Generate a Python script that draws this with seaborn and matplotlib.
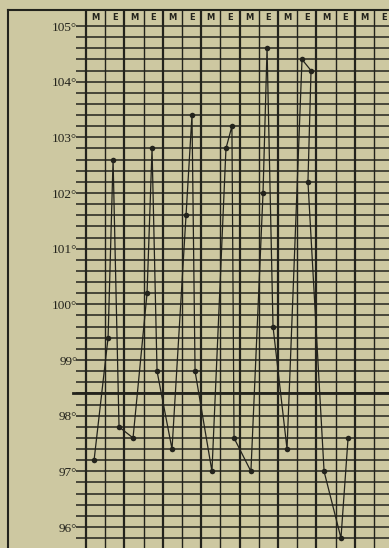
import numpy as np
import matplotlib.pyplot as plt
from matplotlib.lines import Line2D
import seaborn as sns

# temperature readings, x in chart columns (M/E half-days), y in degrees F
times = [0.42, 1.15, 1.41, 1.72, 2.45, 3.18, 3.44, 3.70, 4.48, 5.21, 5.52, 5.68,
         6.56, 7.29, 7.60, 7.71, 8.59, 9.22, 9.43, 9.74, 10.47, 11.25, 11.72,
         11.56, 12.40, 13.28, 13.65]
temps = [97.2, 99.4, 102.6, 97.8, 97.6, 100.2, 102.8, 98.8, 97.4, 101.6, 103.4,
         98.8, 97.0, 102.8, 103.2, 97.6, 97.0, 102.0, 104.6, 99.6, 97.4, 104.4,
         104.2, 102.2, 97.0, 95.8, 97.6]
header = ["M", "E"] * 8
degrees = list(range(96, 106))
normal = 98.4

bg = "#cdc8a1"
ink = "#23231c"

fig = plt.figure(figsize=(3.89, 5.48), dpi=100)
fig.patch.set_facecolor(bg)
ax = fig.add_axes([76 / 389, 0, (389 - 76) / 389, (548 - 10) / 548])
ax.set_facecolor(bg)

col_px = 19.2
deg_px = 55.67
ax.set_xlim((76 - 86) / col_px, (389 - 86) / col_px)
ax.set_ylim(105 - (548 - 26) / deg_px, 105 + 16 / deg_px)

# ruled paper
for v in np.arange(95.8, 105.01, 0.2):
    ax.axhline(v, color=ink, lw=1.1, zorder=1)
ax.axhline(normal, xmin=-0.01, color=ink, lw=2.0, zorder=1, clip_on=False)
for i in range(17):
    ax.axvline(i, ymin=0, color=ink, lw=1.6 if i % 2 == 0 else 1.0, zorder=1)

for i, lab in enumerate(header):
    ax.text(i + 0.5, 105 + 9 / deg_px, lab, ha="center", va="center",
            fontsize=6, fontweight="bold", color=ink, family="DejaVu Sans")

sns.lineplot(x=times, y=temps, sort=False, estimator=None, ax=ax,
             color=ink, lw=0.9, marker="o", markersize=4,
             markeredgewidth=0, zorder=3)

ax.set_xticks([])
ax.set_yticks(degrees)
ax.set_yticklabels([f"{d}°" for d in degrees], family="Liberation Serif",
                   fontsize=9.5, color=ink)
ax.tick_params(axis="y", length=0, pad=-1)
for s in ax.spines.values():
    s.set_visible(False)

# outer frame
fig.add_artist(Line2D([8 / 389, 8 / 389], [0, 1 - 10 / 548],
                      transform=fig.transFigure, color=ink, lw=1.5))
fig.add_artist(Line2D([8 / 389, 1], [1 - 10 / 548, 1 - 10 / 548],
                      transform=fig.transFigure, color=ink, lw=1.5))

fig.savefig("out.png", dpi=100, facecolor=bg)
